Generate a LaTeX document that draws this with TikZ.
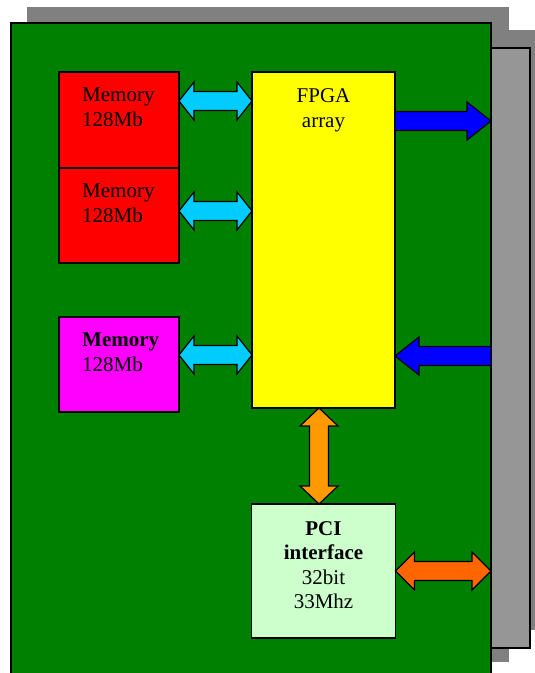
\documentclass[tikz,border=0pt]{standalone}
\usepackage{fontspec}
\setmainfont{Liberation Serif}
\usetikzlibrary{calc,positioning}

\definecolor{boardGreen}{RGB}{0,128,0}
\definecolor{shadowGray}{RGB}{128,128,128}
\definecolor{panelGray}{RGB}{150,150,150}
\definecolor{memRed}{RGB}{255,0,0}
\definecolor{memMagenta}{RGB}{255,0,255}
\definecolor{fpgaYellow}{RGB}{255,255,0}
\definecolor{pciGreen}{RGB}{204,255,204}
\definecolor{busCyan}{RGB}{0,204,255}
\definecolor{busBlue}{RGB}{0,0,255}
\definecolor{busOrange}{RGB}{255,153,0}
\definecolor{pciOrange}{RGB}{255,102,0}

% wide bus arrow with a head at both ends
\newcommand{\busarrow}[4][15pt]{%
  \coordinate (ba) at ($(#3)!#1!(#4)$);
  \coordinate (bb) at ($(#4)!#1!(#3)$);
  \filldraw[busline, fill=#2]
    (#3) -- ($(ba)!19pt!90:(#4)$) -- ($(ba)!9.5pt!90:(#4)$)
    -- ($(bb)!9.5pt!-90:(#3)$) -- ($(bb)!19pt!-90:(#3)$) -- (#4)
    -- ($(bb)!19pt!90:(#3)$) -- ($(bb)!9.5pt!90:(#3)$)
    -- ($(ba)!9.5pt!-90:(#4)$) -- ($(ba)!19pt!-90:(#4)$) -- cycle;}
% wide arrow, flat tail at #3, head at #4
\newcommand{\linkarrow}[4][24pt]{%
  \coordinate (bb) at ($(#4)!#1!(#3)$);
  \filldraw[busline, fill=#2]
    ($(#3)!9.5pt!90:(#4)$) -- ($(bb)!9.5pt!-90:(#3)$)
    -- ($(bb)!19pt!-90:(#3)$) -- (#4) -- ($(bb)!19pt!90:(#3)$)
    -- ($(bb)!9.5pt!90:(#3)$) -- ($(#3)!9.5pt!-90:(#4)$) -- cycle;}

\begin{document}
\begin{tikzpicture}[x=1pt, y=1pt, font=\fontsize{21}{25}\selectfont,
  box/.style={draw=black, line width=1.3pt, inner sep=0pt, outer sep=0pt},
  membox/.style={box, minimum width=120pt, minimum height=95pt},
  memtext/.style={anchor=north west, inner sep=0pt, align=left, xshift=23pt, yshift=-16pt},
  toptext/.style={anchor=north, inner sep=0pt, align=center, yshift=-16pt},
  busline/.style={draw=black, line width=1.2pt, line join=miter}]
  \useasboundingbox (0,0) rectangle (535,673);
  \clip (0,0) rectangle (535,673);
  % Shadows
  \fill[shadowGray] (27,11) rectangle (509,666);
  \fill[shadowGray] (507,43) rectangle (546,643);
  % Board and edge panel
  \node[box, fill=panelGray, minimum width=39pt, minimum height=600pt] (panel) at (510.5,325) {};
  \node[box, fill=boardGreen, minimum width=480pt, minimum height=655pt] (board) at (251,322.5) {};
  % Memories
  \node[membox, fill=memRed, minimum height=96pt,
    label={[memtext]north west:Memory\\128Mb}] (mem1) at (119,553) {};
  \node[membox, fill=memRed, below=0pt of mem1,
    label={[memtext]north west:Memory\\128Mb}] (mem2) {};
  \node[membox, fill=memMagenta, below=54pt of mem2,
    label={[memtext]north west:\textbf{Memory}\\128Mb}] (mem3) {};
  % FPGA and PCI
  \node[box, fill=fpgaYellow, minimum width=143pt, minimum height=336pt,
    below right=0pt and 73pt of mem1.north east,
    label={[toptext]north:FPGA\\array}] (fpga) {};
  \node[box, fill=pciGreen, minimum width=144pt, minimum height=134pt,
    below=96pt of fpga,
    label={[toptext, yshift=-1pt, font=\fontsize{21}{24.5}\selectfont]north:\textbf{PCI}\\\textbf{interface}\\32bit\\33Mhz}] (pci) {};
  % Memory buses
  \coordinate (m1r) at ([yshift=19pt]mem1.east);
  \coordinate (f1) at (fpga.west |- m1r);
  \coordinate (m2r) at ([yshift=4.5pt]mem2.east);
  \coordinate (f2) at (fpga.west |- m2r);
  \coordinate (m3r) at ([yshift=9.5pt]mem3.east);
  \coordinate (f3) at (fpga.west |- m3r);
  \busarrow{busCyan}{m1r}{f1}
  \busarrow{busCyan}{m2r}{f2}
  \busarrow{busCyan}{m3r}{f3}
  % Edge connector links
  \coordinate (o1) at ([yshift=-49pt]fpga.north east);
  \coordinate (o2) at (board.east |- o1);
  \coordinate (i1) at ([yshift=52pt]fpga.south east);
  \coordinate (i2) at (board.east |- i1);
  \linkarrow{busBlue}{o1}{o2}
  \linkarrow{busBlue}{i2}{i1}
  % PCI buses
  \coordinate (v1) at ([xshift=-4.5pt]fpga.south);
  \coordinate (v2) at (v1 |- pci.north);
  \coordinate (p2) at (board.east |- pci.east);
  \busarrow[18pt]{busOrange}{v1}{v2}
  \busarrow[19pt]{pciOrange}{pci.east}{p2}
\end{tikzpicture}
\end{document}
